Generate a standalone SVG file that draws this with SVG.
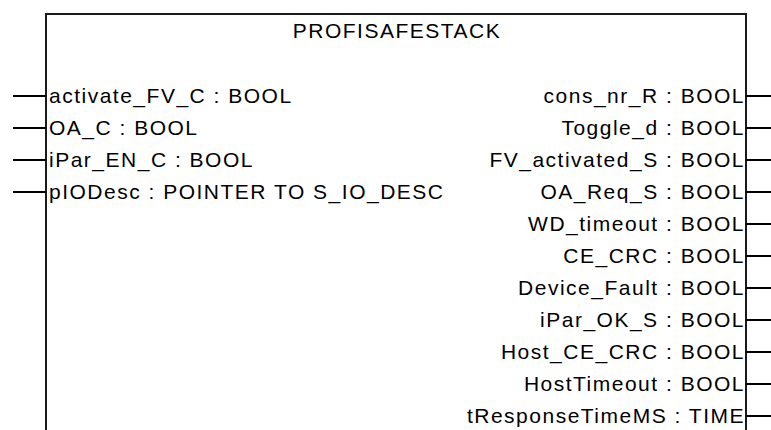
<svg xmlns="http://www.w3.org/2000/svg" width="771" height="430" viewBox="0 0 771 430">
<style>
.t{font-family:"Liberation Sans",Arial,sans-serif;font-size:21px;letter-spacing:1.5px;fill:#000}
.r{text-anchor:end}
.pin{stroke:#000;stroke-width:2;fill:none}
.box{stroke:#1a1a1a;stroke-width:2;fill:#fff}
</style>
<rect width="771" height="430" fill="#fff"/>
<g id="block">
<path class="box" d="M46 440 V14 H746 V440"/>
<text class="t" x="397" y="38" text-anchor="middle">PROFISAFESTACK</text>
</g>
<g id="connectors">
<path class="pin" d="M13 96H46M13 128H46M13 160H46M13 192H46"/>
<path class="pin" d="M746 96H771M746 128H771M746 160H771M746 192H771M746 224H771M746 256H771M746 288H771M746 320H771M746 352H771M746 384H771M746 416H771"/>
</g>
<g id="inputs">
<text class="t" x="49" y="103">activate_FV_C : BOOL</text>
<text class="t" x="49" y="135">OA_C : BOOL</text>
<text class="t" x="49" y="167">iPar_EN_C : BOOL</text>
<text class="t" x="49" y="199">pIODesc : POINTER TO S_IO_DESC</text>
</g>
<g id="outputs">
<text class="t r" x="745" y="103">cons_nr_R : BOOL</text>
<text class="t r" x="745" y="135">Toggle_d : BOOL</text>
<text class="t r" x="745" y="167">FV_activated_S : BOOL</text>
<text class="t r" x="745" y="199">OA_Req_S : BOOL</text>
<text class="t r" x="745" y="231">WD_timeout : BOOL</text>
<text class="t r" x="745" y="263">CE_CRC : BOOL</text>
<text class="t r" x="745" y="295">Device_Fault : BOOL</text>
<text class="t r" x="745" y="327">iPar_OK_S : BOOL</text>
<text class="t r" x="745" y="359">Host_CE_CRC : BOOL</text>
<text class="t r" x="745" y="391">HostTimeout : BOOL</text>
<text class="t r" x="745" y="423">tResponseTimeMS : TIME</text>
</g>
</svg>
